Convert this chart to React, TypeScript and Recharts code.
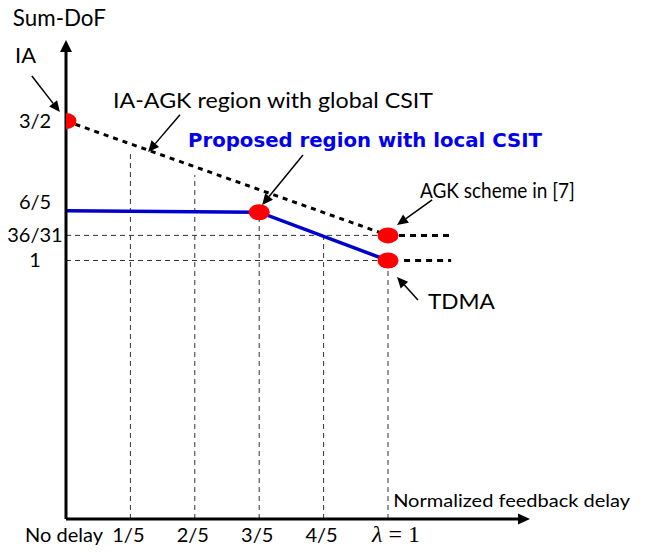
import {
  ComposedChart,
  Line,
  Scatter,
  XAxis,
  YAxis,
  ReferenceLine,
  ReferenceDot,
} from "recharts";

// axis ticks (schematic positions, labels as drawn)
const xTicks = [0, 0.2, 0.4, 0.6, 0.8, 1];
const xTickLabels = ["No delay", "1/5", "2/5", "3/5", "4/5", "λ = 1"];
const yTicks = [1, 1.09, 1.21, 1.5];
const yTickLabels = ["1", "36/31", "6/5", "3/2"];

// IA-AGK region with global CSIT (black dashed)
const globalX = [0, 1];
const globalY = [1.5, 1.09];
// proposed region with local CSIT (blue)
const localX = [0, 0.6, 1];
const localY = [1.178, 1.173, 1.0];
// dashed tails to the right
const agkTailX = [1, 1.205];
const agkTailY = [1.09, 1.09];
const tdmaTailX = [1.05, 1.196];
const tdmaTailY = [1.0, 1.0];
// red points
const pointX = [0, 0.6, 1, 1];
const pointY = [1.5, 1.173, 1.09, 1.0];

// thin dashed guides
const guideX = [0.2, 0.4, 0.6, 0.8, 1];
const guideTop = [1.389, 1.306, 1.173, 1.09, 1.0];
const levelY = [1.09, 1.0];

const X_MAX = 1.441;
const Y_MIN = 0.0735;
const Y_MAX = 1.7903;

// annotation arrows: tail -> tip
const arrows = [
  { x1: -0.106, y1: 1.661, x2: -0.019, y2: 1.532 },
  { x1: 0.354, y1: 1.522, x2: 0.255, y2: 1.389 },
  { x1: 0.736, y1: 1.378, x2: 0.609, y2: 1.199 },
  { x1: 1.137, y1: 1.217, x2: 1.028, y2: 1.127 },
  { x1: 1.093, y1: 0.858, x2: 1.028, y2: 0.941 },
];

const LATO = "Lato, 'Open Sans', sans-serif";
const DEJAVU = "'DejaVu Sans', sans-serif";

const notes = [
  { x: -0.165, y: 1.84, text: "Sum-DoF", size: 24, len: 93, font: LATO, color: "#000", bold: false },
  { x: -0.158, y: 1.708, text: "IA", size: 22, len: 21, font: LATO, color: "#000", bold: false },
  { x: 0.146, y: 1.5466, text: "IA-AGK region with global CSIT", size: 22, len: 320, font: LATO, color: "#000", bold: false },
  { x: 0.379, y: 1.4068, text: "Proposed region with local CSIT", size: 19, len: 354, font: DEJAVU, color: "#0000ee", bold: true },
  { x: 1.099, y: 1.224, text: "AGK scheme in [7]", size: 21, len: 155, font: LATO, color: "#000", bold: false },
  { x: 1.124, y: 0.826, text: "TDMA", size: 22, len: 67, font: LATO, color: "#000", bold: false },
  { x: 1.016, y: 0.1165, text: "Normalized feedback delay", size: 17, len: 237, font: LATO, color: "#000", bold: false },
];

const toRows = (xs: number[], ys: number[]) => xs.map((x, i) => ({ x, y: ys[i] }));

const arrowShape = (w: number, head: number, half: number) => (p: any) => {
  const { x1, y1, x2, y2 } = p;
  const a = Math.atan2(y2 - y1, x2 - x1);
  const bx = x2 - head * Math.cos(a);
  const by = y2 - head * Math.sin(a);
  const nx = -Math.sin(a) * half;
  const ny = Math.cos(a) * half;
  return (
    <g>
      <line x1={x1} y1={y1} x2={bx} y2={by} stroke="#000" strokeWidth={w} />
      <polygon
        points={`${x2},${y2} ${bx + nx},${by + ny} ${bx - nx},${by - ny}`}
        fill="#000"
      />
    </g>
  );
};

const XTick = (props: any) => {
  const { x, y, payload } = props;
  const label = xTickLabels[xTicks.indexOf(payload.value)];
  if (label.startsWith("λ")) {
    return (
      <text x={x + 8} y={y} dy={15} textAnchor="middle" fontSize={24} fontFamily="'Liberation Serif', 'DejaVu Serif', serif">
        <tspan fontStyle="italic">λ</tspan>
        <tspan> = 1</tspan>
      </text>
    );
  }
  return (
    <text x={x - 2} y={y} dy={15} textAnchor="middle" fontSize={20} fontFamily={LATO}>
      {label}
    </text>
  );
};

const YTick = (props: any) => {
  const { y, payload } = props;
  const label = yTickLabels[yTicks.indexOf(payload.value)];
  return (
    <text x={35} y={y} dy={7} textAnchor="middle" fontSize={20} fontFamily={LATO}>
      {label}
    </text>
  );
};

export default function App() {
  return (
    <div style={{ position: "absolute", left: 0, top: 0, background: "#fff" }}>
      <ComposedChart
        width={647}
        height={556}
        margin={{ top: 40, right: 117, bottom: 0, left: 0 }}
      >
        <XAxis
          dataKey="x"
          type="number"
          domain={[0, X_MAX]}
          ticks={xTicks}
          height={37}
          axisLine={false}
          tickLine={false}
          tick={<XTick />}
          allowDataOverflow
        />
        <YAxis
          dataKey="y"
          type="number"
          domain={[Y_MIN, Y_MAX]}
          ticks={yTicks}
          width={66}
          axisLine={false}
          tickLine={false}
          tick={<YTick />}
          allowDataOverflow
        />

        {guideX.map((gx, i) => (
          <ReferenceLine
            key={`v${i}`}
            segment={[{ x: gx, y: Y_MIN }, { x: gx, y: guideTop[i] }]}
            stroke="#333"
            strokeWidth={1}
            strokeDasharray="5 4"
            ifOverflow="visible"
          />
        ))}
        {levelY.map((ly, i) => (
          <ReferenceLine
            key={`h${i}`}
            segment={[{ x: 0, y: ly }, { x: 1, y: ly }]}
            stroke="#333"
            strokeWidth={1}
            strokeDasharray="5 4"
            ifOverflow="visible"
          />
        ))}

        <Line
          data={toRows(globalX, globalY)}
          dataKey="y"
          stroke="#000"
          strokeWidth={3}
          strokeDasharray="5 5"
          dot={false}
          isAnimationActive={false}
        />
        <Line
          data={toRows(agkTailX, agkTailY)}
          dataKey="y"
          stroke="#000"
          strokeWidth={3}
          strokeDasharray="6 5"
          dot={false}
          isAnimationActive={false}
        />
        <Line
          data={toRows(tdmaTailX, tdmaTailY)}
          dataKey="y"
          stroke="#000"
          strokeWidth={3}
          strokeDasharray="6 5"
          dot={false}
          isAnimationActive={false}
        />
        <Line
          data={toRows(localX, localY)}
          dataKey="y"
          stroke="#0000cc"
          strokeWidth={3.5}
          dot={false}
          isAnimationActive={false}
        />
        <Scatter
          data={toRows(pointX, pointY)}
          dataKey="y"
          fill="#ff0000"
          isAnimationActive={false}
          shape={(p: any) => <ellipse cx={p.cx} cy={p.cy} rx={10.5} ry={8} fill="#ff0000" />}
        />

        {/* axes with arrowheads */}
        <ReferenceLine
          segment={[{ x: 0, y: Y_MIN }, { x: 0, y: Y_MAX }]}
          ifOverflow="visible"
          shape={arrowShape(3, 12, 6)}
        />
        <ReferenceLine
          segment={[{ x: 0, y: Y_MIN }, { x: X_MAX, y: Y_MIN }]}
          ifOverflow="visible"
          shape={arrowShape(3, 12, 5.5)}
        />

        {arrows.map((a, i) => (
          <ReferenceLine
            key={`a${i}`}
            segment={[{ x: a.x1, y: a.y1 }, { x: a.x2, y: a.y2 }]}
            ifOverflow="visible"
            shape={arrowShape(1.5, 11, 5)}
          />
        ))}

        {notes.map((n, i) => (
          <ReferenceDot
            key={`n${i}`}
            x={n.x}
            y={n.y}
            ifOverflow="visible"
            shape={(p: any) => (
              <text
                x={p.cx}
                y={p.cy}
                fontSize={n.size}
                fontFamily={n.font}
                fontWeight={n.bold ? 700 : 400}
                fill={n.color}
                textLength={n.len}
                lengthAdjust="spacingAndGlyphs"
              >
                {n.text}
              </text>
            )}
          />
        ))}
      </ComposedChart>
    </div>
  );
}
